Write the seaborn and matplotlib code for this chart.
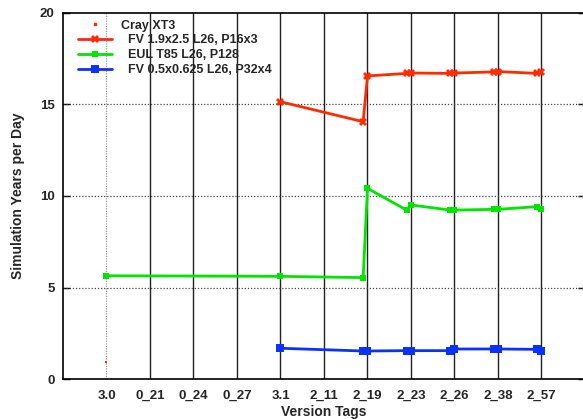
import matplotlib
matplotlib.use("Agg")
import matplotlib.pyplot as plt
import matplotlib.lines as mlines
import numpy as np
import pandas as pd
import seaborn as sns

# Version tags along the x axis
tags = ["3.0", "0_21", "0_24", "0_27", "3.1", "2_11", "2_19", "2_23", "2_26", "2_38", "2_57"]

# Throughput (simulated years per wall-clock day) per configuration
fv19_x = [4, 5.9, 6, 6.9, 7, 7.9, 8, 8.9, 9, 9.9, 10]
fv19_y = [15.15, 14.06, 16.56, 16.7, 16.72, 16.7, 16.72, 16.78, 16.8, 16.7, 16.78]

eul_x = [0, 4, 5.9, 6, 6.9, 7, 7.9, 8, 8.9, 9, 9.9, 10]
eul_y = [5.64, 5.61, 5.54, 10.42, 9.23, 9.51, 9.23, 9.23, 9.27, 9.27, 9.42, 9.27]

fv05_x = [4, 5.9, 6, 6.9, 7, 7.9, 8, 8.9, 9, 9.9, 10]
fv05_y = [1.68, 1.53, 1.53, 1.55, 1.55, 1.55, 1.64, 1.64, 1.64, 1.62, 1.51]

cray_x = [0]
cray_y = [0.95]

labels = ["Cray XT3", "  FV 1.9x2.5 L26, P16x3", "  EUL T85 L26, P128", "  FV 0.5x0.625 L26, P32x4"]

RED, GREEN, BLUE = "#ff2a00", "#00e600", "#0a32ff"

sns.set_theme(style="white")
plt.rcParams["font.family"] = ["Liberation Sans", "DejaVu Sans"]
plt.rcParams["font.weight"] = "bold"

fig = plt.figure(figsize=(5.83, 4.19), dpi=100)
ax = fig.add_axes([63 / 583, 40 / 419, 522 / 583, 366 / 419])
ax.set_facecolor("white")

# grid: vertical at each tag, dotted horizontals at 5/10/15
for i in range(len(tags)):
    if i == 0:
        ax.axvline(i, color="#999999", lw=0.9, ls=(0, (1, 1)), zorder=1)
    else:
        ax.axvline(i, color="#222222", lw=1.0, zorder=1)
for yv in [5, 10, 15]:
    ax.axhline(yv, color="#444444", lw=0.9, ls=(0, (1, 1.5)), zorder=1)

fv19 = pd.DataFrame({"x": fv19_x, "y": fv19_y})
eul = pd.DataFrame({"x": eul_x, "y": eul_y})
fv05 = pd.DataFrame({"x": fv05_x, "y": fv05_y})
cray = pd.DataFrame({"x": cray_x, "y": cray_y})

sns.scatterplot(data=cray, x="x", y="y", ax=ax, color=RED, s=2, marker="s",
                linewidth=0, zorder=3, legend=False)
sns.lineplot(data=fv19, x="x", y="y", ax=ax, sort=False, color=RED, lw=2,
             marker="X", markersize=6, markeredgewidth=0, zorder=3, legend=False)
sns.lineplot(data=eul, x="x", y="y", ax=ax, sort=False, color=GREEN, lw=2,
             marker="s", markersize=4, markeredgewidth=0, zorder=3, legend=False)
sns.lineplot(data=fv05, x="x", y="y", ax=ax, sort=False, color=BLUE, lw=2,
             marker="s", markersize=6, markeredgewidth=0, zorder=3, legend=False)

ax.set_xlim(-1, 11)
ax.set_ylim(0, 20)
ax.set_xticks(range(len(tags)))
ax.set_xticklabels(tags, fontsize=9.5, fontweight="bold")
ax.set_yticks([0, 5, 10, 15, 20])
ax.set_yticklabels(["0", "5", "10", "15", "20"], fontsize=9.5, fontweight="bold")
ax.tick_params(axis="x", length=0, pad=8)
ax.tick_params(axis="y", direction="in", length=5, width=1, left=True, right=True,
               color="black", pad=6)
ax.set_xlabel("Version Tags", fontsize=10, fontweight="bold", labelpad=2)
ax.set_ylabel("Simulation Years per Day", fontsize=10, fontweight="bold", labelpad=11)
for s in ax.spines.values():
    s.set_color("black")
    s.set_linewidth(1.2)
    s.set_visible(True)

handles = [
    mlines.Line2D([], [], color=RED, marker="s", markersize=1.5, ls="none"),
    mlines.Line2D([], [], color=RED, lw=2, marker="X", markersize=6, markeredgewidth=0),
    mlines.Line2D([], [], color=GREEN, lw=2, marker="s", markersize=4, markeredgewidth=0),
    mlines.Line2D([], [], color=BLUE, lw=2, marker="s", markersize=6, markeredgewidth=0),
]
leg = ax.legend(handles, labels, loc="upper left", frameon=False,
                prop={"size": 9, "weight": "bold"}, handlelength=2.7,
                handletextpad=0.75, labelspacing=0.23,
                bbox_to_anchor=(0.012, 1.006), borderaxespad=0.3)

fig.savefig("out.png", dpi=100)
